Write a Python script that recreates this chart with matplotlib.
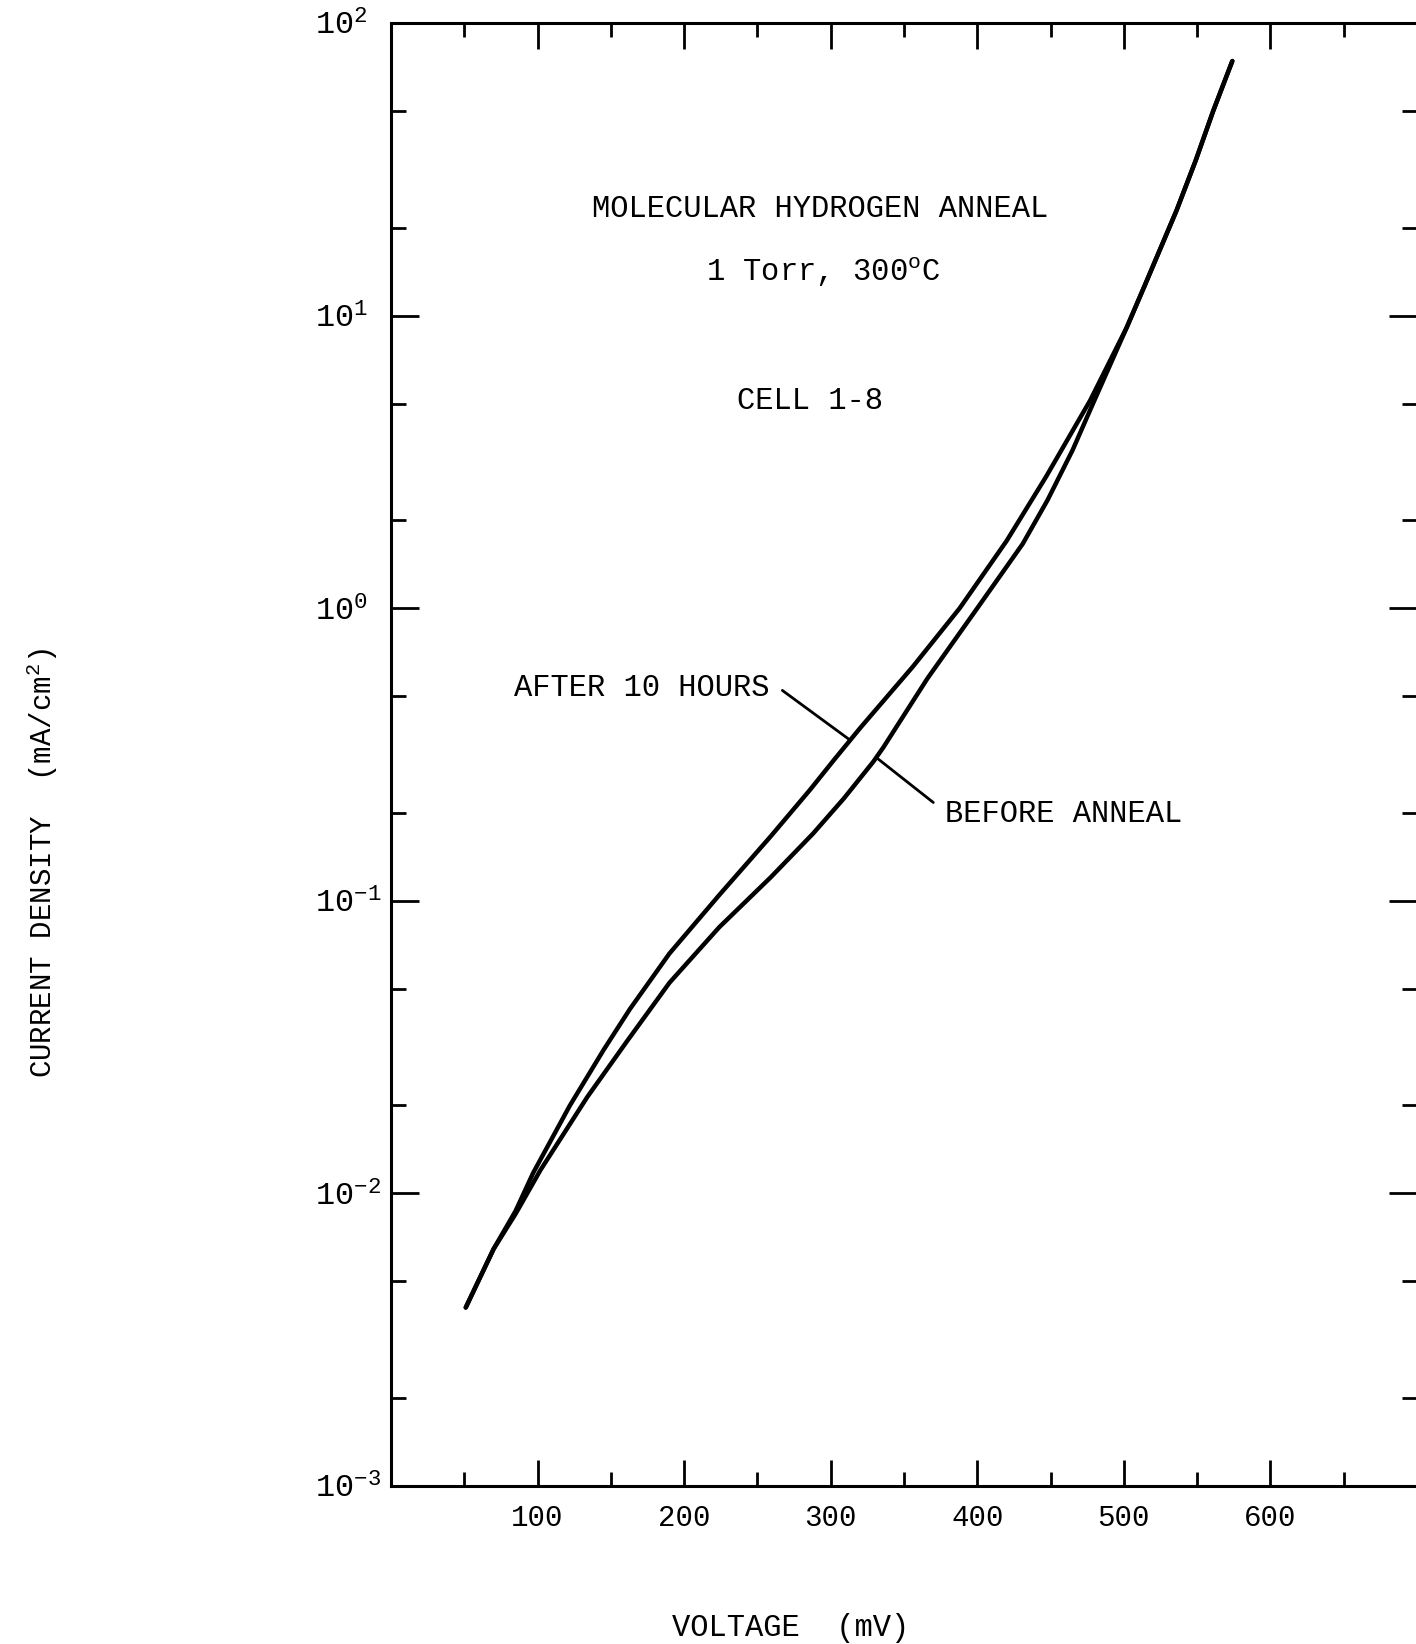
import numpy as np
import matplotlib
matplotlib.use('Agg')
import matplotlib.pyplot as plt
from matplotlib.ticker import FixedLocator, FuncFormatter, NullFormatter

# values: voltage in mV, log10 of current density (mA/cm^2)
v_after = [51, 70, 85, 97, 122, 145, 163, 190, 224, 259, 286, 302, 320,
           356, 388, 420, 447, 477, 502, 514, 536, 549, 561, 574]
logj_after = [-2.39, -2.19, -2.06, -1.93, -1.70, -1.51, -1.37, -1.18, -0.98,
              -0.78, -0.62, -0.52, -0.41, -0.20, 0.00, 0.23, 0.45, 0.71,
              0.96, 1.10, 1.36, 1.53, 1.70, 1.87]

v_before = [51, 70, 85, 102, 134, 161, 190, 224, 259, 288, 309, 329, 336,
            366, 400, 431, 448, 465, 479, 502, 514, 536, 549, 561, 574]
logj_before = [-2.39, -2.19, -2.07, -1.92, -1.67, -1.48, -1.28, -1.09, -0.92,
               -0.77, -0.65, -0.525, -0.475, -0.24, 0.00, 0.22, 0.37, 0.54,
               0.70, 0.96, 1.10, 1.36, 1.53, 1.70, 1.87]

x_major = [100, 200, 300, 400, 500, 600]
x_minor = [50, 150, 250, 350, 450, 550, 650]
y_major = [1e-3, 1e-2, 1e-1, 1e0, 1e1, 1e2]
y_minor = [m * 10.0 ** e for e in range(-3, 2) for m in (2, 5)]

j_after = 10 ** np.array(logj_after)
j_before = 10 ** np.array(logj_before)

FONT = 'Liberation Mono'
plt.rcParams['font.family'] = FONT
plt.rcParams['mathtext.default'] = 'regular'

fig = plt.figure(figsize=(14.16, 16.44), dpi=100)
ax = fig.add_axes([391 / 1416, 1 - 1486 / 1644, 1026 / 1416, 1463 / 1644])

ax.plot(v_after, j_after, color='black', lw=3.2, solid_capstyle='round',
        solid_joinstyle='round')
ax.plot(v_before, j_before, color='black', lw=3.2, solid_capstyle='round',
        solid_joinstyle='round')

ax.set_yscale('log')
ax.set_xlim(0, 700)
ax.set_ylim(1e-3, 1e2)

ax.xaxis.set_major_locator(FixedLocator(x_major))
ax.xaxis.set_minor_locator(FixedLocator(x_minor))
ax.yaxis.set_major_locator(FixedLocator(y_major))
ax.yaxis.set_minor_locator(FixedLocator(y_minor))
ax.yaxis.set_minor_formatter(NullFormatter())
ax.yaxis.set_major_formatter(FuncFormatter(
    lambda v, p: r'$\mathregular{10^{%d}}$' % int(round(np.log10(v)))))

ax.tick_params(which='both', direction='in', top=True, right=True, width=2,
               colors='black')
ax.tick_params(axis='x', which='major', length=19, labelsize=21, pad=13)
ax.tick_params(axis='x', which='minor', length=10)
ax.tick_params(axis='y', which='major', length=20, labelsize=23, pad=55)
ax.tick_params(axis='y', which='minor', length=11)
for lab in ax.get_yticklabels():
    lab.set_horizontalalignment('left')

for s in ax.spines.values():
    s.set_linewidth(2.2)
ax.spines['right'].set_visible(False)

tkw = dict(fontsize=22, family=FONT, color='black')
ax.text(293, 10 ** 1.364, 'MOLECULAR HYDROGEN ANNEAL', ha='center', va='center', **tkw)
ax.text(295, 10 ** 1.148, r'1 Torr, 300$^{\mathregular{o}}$C', ha='center', va='center', **tkw)
ax.text(286, 10 ** 0.707, 'CELL 1-8', ha='center', va='center', **tkw)

# curve labels with leader lines
ax.text(258, 10 ** -0.274, 'AFTER 10 HOURS', ha='right', va='center', **tkw)
ax.annotate('', xy=(313, 10 ** -0.45), xytext=(267, 10 ** -0.281),
            arrowprops=dict(arrowstyle='-', color='black', lw=2,
                            shrinkA=0, shrinkB=0))
ax.text(378, 10 ** -0.702, 'BEFORE ANNEAL', ha='left', va='center', **tkw)
ax.annotate('', xy=(331, 10 ** -0.51), xytext=(370, 10 ** -0.664),
            arrowprops=dict(arrowstyle='-', color='black', lw=2,
                            shrinkA=0, shrinkB=0))

fig.text(42 / 1416, 1 - 863 / 1644, r'CURRENT DENSITY  (mA/cm$^{\mathregular{2}}$)',
         rotation=90, ha='center', va='center', fontsize=21, family=FONT)
fig.text(791 / 1416, 1 - 1628 / 1644, 'VOLTAGE  (mV)', ha='center', va='center',
         fontsize=22, family=FONT)

fig.savefig('out.png', dpi=100)
